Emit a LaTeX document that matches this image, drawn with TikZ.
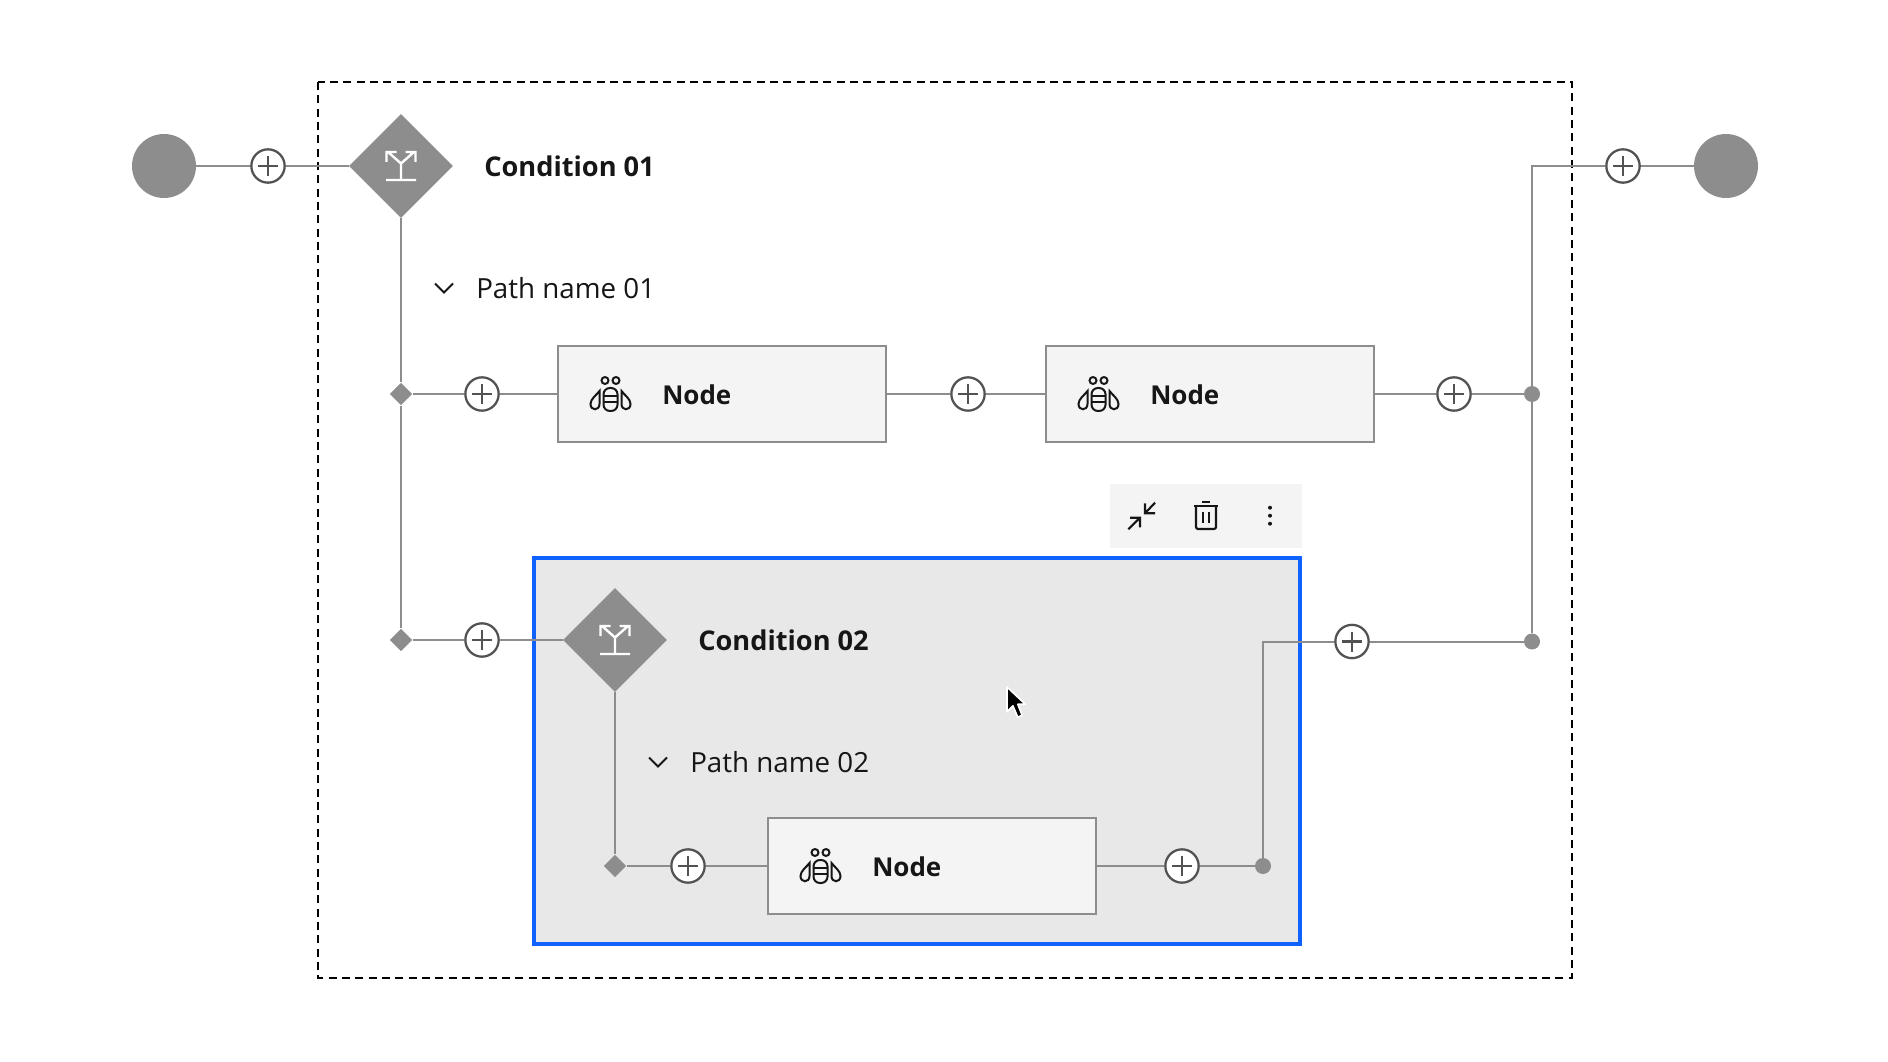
\documentclass[tikz,border=0pt]{standalone}
\usepackage{fontspec}
\setmainfont{Open Sans}
\usetikzlibrary{shapes.geometric}
\definecolor{edgegray}{HTML}{8D8D8D}
\definecolor{plusgray}{HTML}{525252}
\definecolor{nodefill}{HTML}{F4F4F4}
\definecolor{groupfill}{HTML}{E8E8E8}
\definecolor{selblue}{HTML}{0F62FE}
\definecolor{inkc}{HTML}{161616}
\tikzset{
  x=0.75pt,y=-0.75pt,
  conn/.style={draw=edgegray,line width=1.5pt},
  terminal/.style={circle,fill=edgegray,minimum size=48pt,inner sep=0pt},
  bigdia/.style={diamond,fill=edgegray,minimum size=78pt,inner sep=0pt,aspect=1},
  smalldia/.style={diamond,fill=edgegray,minimum size=17pt,inner sep=0pt,aspect=1},
  jdot/.style={circle,fill=edgegray,minimum size=12pt,inner sep=0pt},
  addbtn/.style={circle,draw=plusgray,fill=white,line width=1.7pt,minimum size=25pt,inner sep=0pt,
    path picture={\draw[plusgray,line width=1.6pt] (path picture bounding box.center)++(-7.5pt,0)--++(15pt,0) (path picture bounding box.center)++(0,-7.5pt)--++(0,15pt);}},
  taskbox/.style={draw=edgegray,fill=nodefill,line width=1.5pt,minimum width=246.3pt,minimum height=71.6pt,inner sep=0pt},
  titletext/.style={font=\fontsize{20.4pt}{24pt}\selectfont\bfseries,text=inkc,anchor=west,inner sep=0pt},
  nodetext/.style={font=\fontsize{19.5pt}{24pt}\selectfont\bfseries,text=inkc,anchor=west,inner sep=0pt},
  pathtext/.style={font=\fontsize{20.8pt}{24pt}\selectfont,text=inkc,anchor=west,inner sep=0pt},
  iconline/.style={draw=inkc,line width=1.6pt,line cap=butt},
  beeline/.style={draw=inkc,line width=1.5pt},
}
\newcommand{\beeicon}[1]{%
  \begin{scope}[shift={(#1)},x=0.75pt,y=-0.75pt]
    \draw[beeline] (-5.5,-13.5) circle (2.6pt);
    \draw[beeline] (5.5,-13.5) circle (2.6pt);
    \draw[beeline,rounded corners=4.8pt] (-7,-6) rectangle (7,17);
    \draw[beeline] (-7,2)--(7,2) (-7,8)--(7,8);
    \draw[beeline] (-11,-3) .. controls (-14,1) and (-20,5) .. (-20,10) .. controls (-20,17) and (-11,17) .. (-11,10) -- cycle;
    \draw[beeline] (11,-3) .. controls (14,1) and (20,5) .. (20,10) .. controls (20,17) and (11,17) .. (11,10) -- cycle;
  \end{scope}}
\newcommand{\splitglyph}[1]{%
  \begin{scope}[shift={(#1)},x=0.75pt,y=-0.75pt]
    \draw[white,line width=1.8pt] (-15,14)--(15,14) (0,14)--(0,-2.5) (0,-2.5)--(-13,-14) (0,-2.5)--(13,-14)
      (-14.5,-4)--(-14.5,-14)--(-4.5,-14) (14.5,-4)--(14.5,-14)--(4.5,-14);
  \end{scope}}
\newcommand{\chevronglyph}[1]{%
  \begin{scope}[shift={(#1)},x=0.75pt,y=-0.75pt]
    \draw[draw=inkc,line width=1.5pt] (-9,-4.5)--(0,4.5)--(9,-4.5);
  \end{scope}}
\begin{document}
\begin{tikzpicture}
\useasboundingbox (0,0) rectangle (1888,1062);
\fill[white] (0,0) rectangle (1888,1062);
% dashed frame
\draw[black,line width=1.5pt,dash pattern=on 6pt off 4pt] (318,82) rectangle (1572,978);
% group
\draw[selblue,fill=groupfill,line width=3pt] (534,558) rectangle (1300,944);
% toolbar
\fill[nodefill] (1110,484) rectangle (1302,548);
% nodes
\node[terminal] (start) at (164,166) {};
\node[terminal] (end) at (1726,166) {};
\node[bigdia] (c1) at (401,166) {};
\node[bigdia] (c2) at (615,640) {};
\node[smalldia] (j1) at (401,394) {};
\node[smalldia] (j2) at (401,640) {};
\node[smalldia] (j3) at (615,866) {};
\node[jdot] (m1) at (1532,394) {};
\node[jdot] (m2) at (1532,641.5) {};
\node[jdot] (m3) at (1263,866) {};
\coordinate (t1) at (1532,166);
\coordinate (t2) at (1263,641.5);
\node[taskbox] (n1) at (722,394) {};
\node[taskbox] (n2) at (1210,394) {};
\node[taskbox] (n3) at (932,866) {};
\node[addbtn] (a0) at (268,166) {};
\node[addbtn] (a1) at (482,394) {};
\node[addbtn] (a2) at (968,394) {};
\node[addbtn] (a3) at (1454,394) {};
\node[addbtn] (a4) at (1623,166) {};
\node[addbtn] (a5) at (482,640) {};
\node[addbtn] (a6) at (1352,641.5) {};
\node[addbtn] (a7) at (688,866) {};
\node[addbtn] (a8) at (1182,866) {};
% connectors
\draw[conn] (start)--(a0) (a0)--(c1) (c1)--(j1) (j1)--(j2) (j1)--(a1) (a1)--(n1) (n1)--(a2) (a2)--(n2) (n2)--(a3) (a3)--(m1)
  (j2)--(a5) (a5)--(c2) (c2)--(j3) (j3)--(a7) (a7)--(n3) (n3)--(a8) (a8)--(m3) (m3)--(t2)--(a6) (a6)--(m2) (m2)--(m1) (m1)--(t1)--(a4) (a4)--(end);
% text
\splitglyph{401,166}
\splitglyph{615,640}
\node[titletext] (l1) at (484,166.2) {Condition 01};
\node[titletext] (l2) at (698,640.2) {Condition 02};
\chevronglyph{444,288}
\chevronglyph{658,762}
\node[pathtext] (p1) at (476,288.5) {Path name 01};
\node[pathtext] (p2) at (690,762.5) {Path name 02};
\beeicon{610.5,394}
\beeicon{1098.5,394}
\beeicon{820.5,866}
\node[nodetext] (t-n1) at (662,394.5) {Node};
\node[nodetext] (t-n2) at (1150,394.5) {Node};
\node[nodetext] (t-n3) at (872,866.5) {Node};
% toolbar icons
\begin{scope}[shift={(1142,516)}]
  \draw[iconline] (-13.7,13.3)--(-2,1.7) (-12,1.7)--(-2,1.7)--(-2,11.3) (13,-13.3)--(3,-2.7) (3,-12.7)--(3,-2.7)--(13,-2.7);
\end{scope}
\begin{scope}[shift={(1206,516)}]
  \draw[iconline] (-12,-10)--(12,-10) (-4,-13.7)--(4,-13.7) (-3.3,-4.3)--(-3.3,7.3) (3.3,-4.3)--(3.3,7.3);
  \draw[iconline,rounded corners=1.5pt] (-10,-10)--(-10,13)--(10,13)--(10,-10);
\end{scope}
\fill[inkc] (1270,507.7) circle (1.5pt) (1270,515.7) circle (1.5pt) (1270,523.7) circle (1.5pt);
% cursor
\begin{scope}[shift={(1007,687)},scale=1.08]
  \draw[white,fill=black,line width=1.2pt,line join=round] (0,0)--(0,23)--(5.5,17.5)--(10,28)--(14,26)--(10,16)--(17,16)--cycle;
\end{scope}
\end{tikzpicture}
\end{document}
